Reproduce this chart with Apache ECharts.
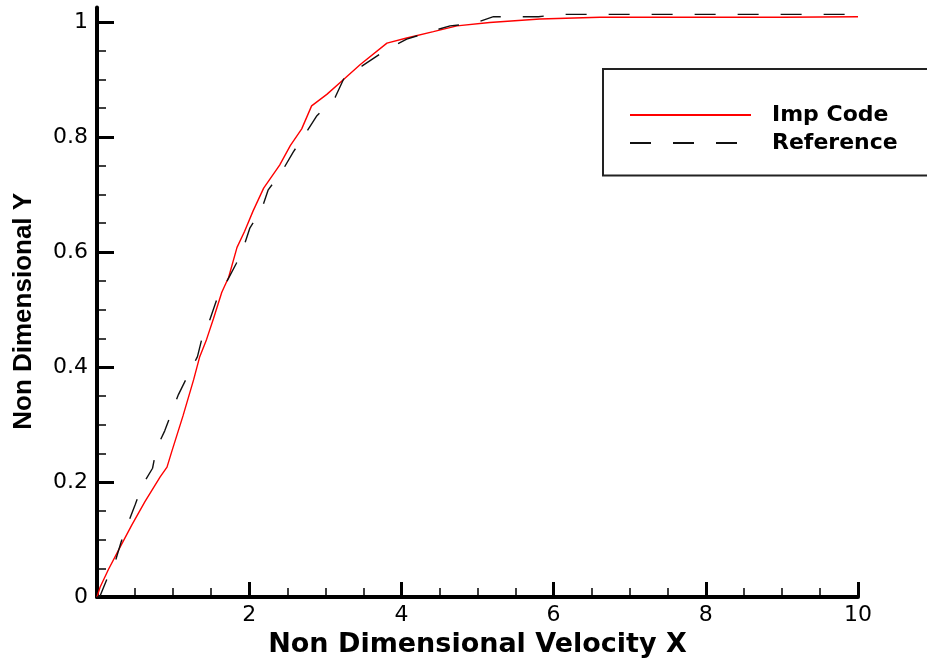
<!DOCTYPE html>
<html>
<head>
<meta charset="utf-8">
<script src="https://cdn.jsdelivr.net/npm/echarts@6/dist/echarts.min.js"></script>
<style>
html,body{margin:0;padding:0;background:#fff;}
#chart{width:927px;height:663px;}
</style>
</head>
<body>
<div id="chart"></div>
<script>
// Imp Code (red solid)
var impX = [0, 0.04, 0.15, 0.30, 0.46, 0.63, 0.83, 0.92, 0.98, 1.13, 1.27, 1.35, 1.44, 1.53, 1.64, 1.73, 1.84, 1.94, 2.05, 2.19, 2.40, 2.54, 2.69, 2.82, 3.02, 3.24, 3.46, 3.81, 4.07, 4.42, 4.73, 5.16, 5.82, 6.61, 9.01, 10];
var impY = [0, 0.017, 0.048, 0.086, 0.126, 0.166, 0.209, 0.226, 0.252, 0.315, 0.378, 0.418, 0.448, 0.484, 0.530, 0.556, 0.608, 0.636, 0.671, 0.711, 0.751, 0.785, 0.814, 0.854, 0.874, 0.900, 0.926, 0.963, 0.972, 0.983, 0.993, 0.999, 1.005, 1.008, 1.008, 1.009];
// Reference (black dashed)
var refX = [0, 0.04, 0.13, 0.24, 0.32, 0.41, 0.50, 0.59, 0.73, 0.78, 0.89, 0.98, 1.07, 1.20, 1.32, 1.38, 1.48, 1.57, 1.70, 1.83, 1.93, 2.01, 2.16, 2.25, 2.43, 2.58, 2.73, 2.89, 3.13, 3.26, 3.48, 3.81, 4.07, 4.38, 4.64, 4.94, 5.21, 5.80, 6.08, 9.95];
var refY = [0, 0.002, 0.031, 0.062, 0.097, 0.129, 0.160, 0.193, 0.224, 0.258, 0.289, 0.321, 0.352, 0.387, 0.418, 0.450, 0.481, 0.516, 0.547, 0.580, 0.610, 0.642, 0.673, 0.708, 0.740, 0.774, 0.804, 0.837, 0.869, 0.906, 0.923, 0.952, 0.970, 0.983, 0.993, 0.997, 1.009, 1.009, 1.013, 1.013];
// ticks
var xLabelTicks = [2, 4, 6, 8, 10];
var yMajorTicks = [0, 0.2, 0.4, 0.6, 0.8, 1];
var yMinorTicks = [0.05, 0.1, 0.15, 0.25, 0.3, 0.35, 0.45, 0.5, 0.55, 0.65, 0.7, 0.75, 0.85, 0.9, 0.95];
var seriesNames = ['Imp Code', 'Reference'];
var xTitle = 'Non Dimensional Velocity X';
var yTitle = 'Non Dimensional Y';

function pairs(xs, ys) { return xs.map(function (x, i) { return [x, ys[i]]; }); }

var chart = echarts.init(document.getElementById('chart'), null, {renderer: 'canvas'});
var tickFont = {fontFamily: 'DejaVu Sans', fontSize: 22, color: '#000'};
chart.setOption({
  animation: false,
  backgroundColor: '#fff',
  grid: {left: 97, right: 69, top: 7.5, bottom: 60, containLabel: false},
  legend: {
    orient: 'vertical', left: 603, top: 69,
    padding: [35, 60, 21.5, 26],
    borderColor: '#222', borderWidth: 2,
    itemWidth: 121, itemHeight: 14, itemGap: 6,
    itemStyle: {opacity: 0},
    textStyle: {fontFamily: 'DejaVu Sans', fontWeight: 'bold', fontSize: 22, color: '#000', padding: [0, 0, 0, 16]},
    data: seriesNames
  },
  xAxis: {
    type: 'value', min: 0, max: 10, interval: 2,
    name: xTitle, nameLocation: 'middle', nameGap: 31,
    nameTextStyle: {fontFamily: 'DejaVu Sans', fontWeight: 'bold', fontSize: 27, color: '#000'},
    axisLine: {show: true, onZero: false, lineStyle: {color: '#000', width: 4}},
    axisTick: {show: true, inside: true, length: 15, lineStyle: {color: '#000', width: 3}},
    minorTick: {show: true, splitNumber: 4, length: 9, lineStyle: {color: '#000', width: 1.5}},
    axisLabel: Object.assign({customValues: xLabelTicks, margin: 7}, tickFont),
    splitLine: {show: false}, minorSplitLine: {show: false}
  },
  yAxis: [{
    type: 'value', min: 0, max: 1.025,
    name: yTitle, nameLocation: 'middle', nameGap: 60, nameRotate: 90,
    nameTextStyle: {fontFamily: 'Liberation Sans', fontWeight: 'bold', fontSize: 26, color: '#000', padding: [0, 18, 0, 0]},
    axisLine: {show: true, onZero: false, lineStyle: {color: '#000', width: 4}},
    axisTick: {show: true, inside: true, length: 17, customValues: yMajorTicks, lineStyle: {color: '#000', width: 3}},
    axisLabel: Object.assign({customValues: yMajorTicks, margin: 9, formatter: function (v) { return String(v); }}, tickFont),
    splitLine: {show: false}
  }, {
    type: 'value', min: 0, max: 1.025, position: 'left',
    axisLine: {show: false},
    axisTick: {show: true, inside: true, length: 9, customValues: yMinorTicks, lineStyle: {color: '#000', width: 1.5}},
    axisLabel: {show: false},
    splitLine: {show: false}
  }],
  series: [{
    name: seriesNames[0], type: 'line', symbol: 'none', yAxisIndex: 0,
    data: pairs(impX, impY),
    lineStyle: {color: '#ff0000', width: 1.4}, itemStyle: {color: '#ff0000'}
  }, {
    name: seriesNames[1], type: 'line', symbol: 'none', yAxisIndex: 0,
    data: pairs(refX, refY),
    lineStyle: {color: '#111', width: 1.4, type: [21, 22]}, itemStyle: {color: '#111'}
  }]
});
</script>
</body>
</html>
